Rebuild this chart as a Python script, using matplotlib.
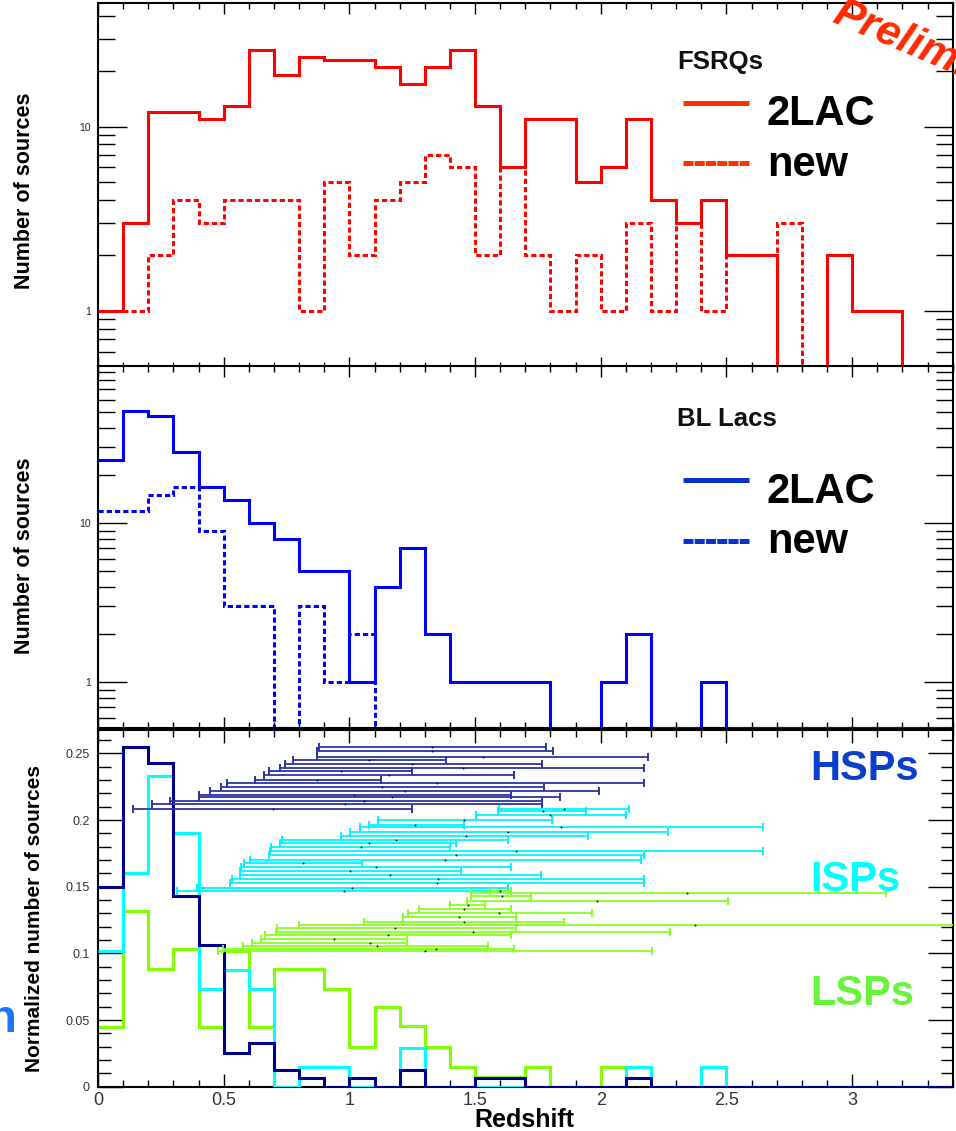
import numpy as np
import matplotlib
matplotlib.use("Agg")
import matplotlib.pyplot as plt
from matplotlib.lines import Line2D
from matplotlib.ticker import FixedLocator, MultipleLocator, NullFormatter, FuncFormatter, LogLocator

plt.rcParams['font.family'] = ['Liberation Sans', 'DejaVu Sans']

# ---------------- data ----------------
bin_edges = np.round(np.arange(0, 3.41, 0.1), 1)

fsrq_2lac = [1, 3, 12, 12, 11, 13, 26, 19, 24, 23, 23, 21, 17, 21, 26, 13, 6, 11,
             11, 5, 6, 11, 4, 3, 4, 2, 2, 0, 0, 2, 1, 1, 0, 0]
fsrq_new = [1, 1, 2, 4, 3, 4, 4, 4, 1, 5, 2, 4, 5, 7, 6, 2, 6, 2,
            1, 2, 1, 3, 1, 3, 1, 2, 2, 3, 0, 0, 0, 0, 0, 0]
bll_2lac = [25, 51, 47, 28, 17, 14, 10, 8, 5, 5, 1, 4, 7, 2, 1, 1, 1, 1,
            0, 0, 1, 2, 0, 0, 1, 0, 0, 0, 0, 0, 0, 0, 0, 0]
bll_new = [12, 12, 15, 17, 9, 3, 3, 0, 3, 1, 2, 0, 0, 0, 0, 0, 0, 0,
           0, 0, 0, 0, 0, 0, 0, 0, 0, 0, 0, 0, 0, 0, 0, 0]

hsp_frac = [0.150, 0.255, 0.2425, 0.143, 0.106, 0.0255, 0.0325, 0.0125, 0.0068, 0,
            0.0068, 0, 0.0125, 0, 0, 0.0068, 0.0068, 0, 0, 0, 0, 0.0068,
            0, 0, 0, 0, 0, 0, 0, 0, 0, 0, 0, 0]
isp_frac = [0.102, 0.160, 0.233, 0.190, 0.073, 0.0875, 0.073, 0, 0.0146, 0.0146,
            0, 0, 0.0292, 0, 0, 0, 0, 0, 0, 0, 0, 0.0146,
            0, 0, 0.0146, 0, 0, 0, 0, 0, 0, 0, 0, 0]
lsp_frac = [0.045, 0.132, 0.088, 0.103, 0.045, 0.102, 0.045, 0.088, 0.088, 0.073,
            0.030, 0.0595, 0.0455, 0.030, 0.015, 0.0074, 0.0074, 0.015, 0, 0, 0.015,
            0, 0, 0, 0, 0, 0, 0, 0, 0, 0, 0, 0, 0]

# redshift ranges (lower limit, upper limit, estimate) of sources without firm z
hsp_y = [0.2546, 0.2516, 0.2473, 0.2450, 0.2420, 0.2387, 0.2364, 0.2338, 0.2303,
         0.2274, 0.2244, 0.2218, 0.2190, 0.2169, 0.2145, 0.2120, 0.2085]
hsp_lo = [0.878, 0.871, 0.871, 0.774, 0.745, 0.725, 0.679, 0.659, 0.625,
          0.515, 0.489, 0.446, 0.400, 0.400, 0.287, 0.214, 0.141]
hsp_hi = [1.784, 1.810, 2.186, 1.383, 1.765, 2.173, 1.250, 1.655, 1.126,
          2.173, 1.774, 1.993, 1.641, 1.837, 1.765, 1.765, 1.250]
hsp_c = [1.33, 1.33, 1.53, 1.08, 1.25, 1.45, 0.967, 1.157, 0.871,
         1.35, 1.13, 1.22, 1.02, 1.17, 1.057, 0.984, 0.696]

isp_y = [0.2083, 0.2066, 0.2036, 0.2003, 0.1965, 0.1948, 0.1910, 0.1878, 0.1853,
         0.1828, 0.1796, 0.1770, 0.1740, 0.1703, 0.1678, 0.1646, 0.1616, 0.1590,
         0.1558, 0.1528, 0.1490, 0.1470]
isp_lo = [1.595, 1.591, 1.505, 1.113, 1.077, 1.041, 1.004, 0.968, 0.732,
          0.725, 0.689, 0.685, 0.679, 0.606, 0.582, 0.570, 0.566, 0.563,
          0.533, 0.526, 0.393, 0.313]
isp_hi = [2.113, 1.943, 2.100, 1.805, 1.456, 2.644, 2.266, 1.951, 1.631,
          1.425, 1.402, 2.644, 2.173, 2.162, 1.050, 1.644, 1.445, 1.764,
          2.173, 2.173, 1.631, 1.644]
isp_c = [1.854, 1.77, 1.80, 1.456, 1.263, 1.843, 1.631, 1.462, 1.185,
         1.077, 1.047, 1.661, 1.425, 1.382, 0.815, 1.106, 1.004, 1.16,
         1.353, 1.347, 1.01, 0.98]

lsp_y = [0.1470, 0.1450, 0.1430, 0.1395, 0.1363, 0.1330, 0.1300, 0.1275, 0.1238,
         0.1213, 0.1188, 0.1163, 0.1138, 0.1106, 0.1080, 0.1055, 0.1033, 0.1018]
lsp_lo = [1.559, 1.485, 1.485, 1.469, 1.402, 1.276, 1.232, 1.214, 1.057,
          0.798, 0.714, 0.709, 0.665, 0.649, 0.612, 0.576, 0.497, 0.479]
lsp_hi = [1.641, 3.133, 1.721, 2.505, 1.539, 1.644, 1.964, 1.661, 1.854,
          3.600, 1.661, 2.276, 1.644, 1.230, 1.230, 1.553, 1.655, 2.203]
lsp_c = [1.60, 2.343, 1.606, 1.987, 1.473, 1.456, 1.595, 1.436, 1.456,
         2.375, 1.183, 1.49, 1.154, 0.938, 1.084, 1.11, 1.343, 1.30]

# ---------------- figure ----------------
W, H = 956, 1131
fig = plt.figure(figsize=(W / 100, H / 100), dpi=100)


def fx(px):
    return px / W


def fy(py):
    return 1 - py / H


X0, X1 = 98, 952.7
ax_top = fig.add_axes([fx(X0), fy(367.7), fx(X1 - X0), (367.7 - 3.3) / H])
ax_mid = fig.add_axes([fx(X0), fy(728.3), fx(X1 - X0), (728.3 - 366) / H])
ax_bot = fig.add_axes([fx(X0), fy(1086.7), fx(X1 - X0), (1086.7 - 730) / H])

HIST_LW = 2.2
DASH = (0, (1.7, 1.0))


def log_style(ax, ylim):
    ax.set_yscale('log')
    ax.set_xlim(0, 3.4)
    ax.set_ylim(*ylim)
    ax.yaxis.set_major_locator(FixedLocator([1, 10, 100]))
    ax.yaxis.set_major_formatter(FuncFormatter(lambda v, p: f"{v:g}"))
    ax.yaxis.set_minor_locator(LogLocator(base=10, subs=np.arange(2, 10)))
    ax.yaxis.set_minor_formatter(NullFormatter())
    ax.xaxis.set_major_locator(MultipleLocator(0.5))
    ax.xaxis.set_minor_locator(MultipleLocator(0.1))
    ax.tick_params(axis='x', which='both', labelbottom=False, top=True, bottom=True,
                   direction='in')
    ax.tick_params(axis='x', which='major', length=8, width=1.0)
    ax.tick_params(axis='x', which='minor', length=4, width=1.0)
    ax.tick_params(axis='y', which='both', direction='in', left=True, right=True)
    ax.tick_params(axis='y', which='major', length=21, width=1.0, labelsize=7.5,
                   pad=5, labelcolor='#222222')
    ax.tick_params(axis='y', which='minor', length=12, width=1.0)
    for s in ax.spines.values():
        s.set_linewidth(1.5)


def floor(vals, ymin):
    v = np.asarray(vals, dtype=float)
    return np.where(v > 0, v, ymin)


# ---- top: FSRQs ----
ylt = (0.49, 46.8)
log_style(ax_top, ylt)
ax_top.stairs(floor(fsrq_2lac, ylt[0]), bin_edges, baseline=None, color='#ff0000',
              lw=HIST_LW, zorder=3)
ax_top.stairs(floor(fsrq_new, ylt[0]), bin_edges, baseline=None, color='#ff0000',
              lw=HIST_LW, linestyle=DASH, zorder=2)

# ---- middle: BL Lacs ----
ylm = (0.514, 97.6)
log_style(ax_mid, ylm)
ax_mid.stairs(floor(bll_2lac, ylm[0]), bin_edges, baseline=None, color='#0000ff',
              lw=HIST_LW, zorder=3)
ax_mid.stairs(floor(bll_new, ylm[0]), bin_edges, baseline=None, color='#0000ff',
              lw=HIST_LW, linestyle=DASH, zorder=2)

# ---- bottom: normalized ----
ax = ax_bot
ax.set_xlim(0, 3.4)
ax.set_ylim(0, 0.2675)
ax.xaxis.set_major_locator(MultipleLocator(0.5))
ax.xaxis.set_minor_locator(MultipleLocator(0.1))
ax.yaxis.set_major_locator(MultipleLocator(0.05))
ax.yaxis.set_minor_locator(MultipleLocator(0.01))
ax.xaxis.set_major_formatter(FuncFormatter(lambda v, p: f"{v:g}"))
ax.yaxis.set_major_formatter(FuncFormatter(lambda v, p: f"{v:g}"))
ax.tick_params(axis='both', which='both', direction='in', top=True, right=True)
ax.tick_params(axis='x', which='major', length=9.5, width=1.0, labelsize=13,
               pad=4.0, labelcolor='#333333')
ax.tick_params(axis='x', which='minor', length=5, width=1.0)
ax.tick_params(axis='y', which='major', length=18, width=1.0, labelsize=9,
               pad=6, labelcolor='#333333')
ax.tick_params(axis='y', which='minor', length=9, width=1.0)
for s in ax.spines.values():
    s.set_linewidth(1.5)

ax.stairs(lsp_frac, bin_edges, baseline=None, color='#80ff00', lw=HIST_LW, zorder=2)
ax.stairs(isp_frac, bin_edges, baseline=None, color='#00ffff', lw=HIST_LW, zorder=3)
ax.stairs(hsp_frac, bin_edges, baseline=None, color='#00008f', lw=HIST_LW, zorder=4)


def ranges(ax, y, lo, hi, c, color):
    y = np.asarray(y); lo = np.asarray(lo); hi = np.asarray(hi); c = np.asarray(c)
    ax.errorbar(c, y, xerr=[c - lo, hi - c], fmt='none', ecolor=color,
                elinewidth=1.3, capsize=3.2, capthick=1.4, zorder=5)
    ax.plot(c, y, 'o', color='#111111', ms=1.4, mew=0, zorder=6)


ranges(ax, hsp_y, hsp_lo, hsp_hi, hsp_c, '#2d35a5')
ranges(ax, isp_y, isp_lo, isp_hi, isp_c, '#00f4ff')
ranges(ax, lsp_y, lsp_lo, lsp_hi, lsp_c, '#88ff22')

# ---------------- texts ----------------
fig.text(fx(25), fy(190.7), 'Number of sources', rotation=90, ha='center', va='center',
         fontsize=15.5, fontweight='bold')
fig.text(fx(25), fy(555.5), 'Number of sources', rotation=90, ha='center', va='center',
         fontsize=15.5, fontweight='bold')
fig.text(fx(35), fy(918), 'Normalized number of sources', rotation=90, ha='center',
         va='center', fontsize=15, fontweight='bold')
fig.text(fx(524), fy(1127), 'Redshift', ha='center', va='baseline', fontsize=18,
         fontweight='bold')

# legends
fig.text(fx(677), fy(69), 'FSRQs', fontsize=18.5, fontweight='bold', color='#111111',
         ha='left', va='baseline')
fig.text(fx(767), fy(125), '2LAC', fontsize=30, fontweight='bold', ha='left', va='baseline')
fig.text(fx(767), fy(176), 'new', fontsize=30, fontweight='bold', ha='left', va='baseline')
fig.add_artist(Line2D([fx(683), fx(749)], [fy(102.5)] * 2, color='#ff3300', lw=3.6,
                      solid_capstyle='butt'))
fig.add_artist(Line2D([fx(683), fx(749)], [fy(163)] * 2, color='#ff3300', lw=3.6,
                      linestyle=(0, (2.0, 0.25)), dash_capstyle='butt'))

fig.text(fx(677), fy(426), 'BL Lacs', fontsize=18.5, fontweight='bold', color='#111111',
         ha='left', va='baseline')
fig.text(fx(767), fy(503), '2LAC', fontsize=30, fontweight='bold', ha='left', va='baseline')
fig.text(fx(767), fy(553), 'new', fontsize=30, fontweight='bold', ha='left', va='baseline')
fig.add_artist(Line2D([fx(683), fx(749)], [fy(480)] * 2, color='#0a30d0', lw=3.6,
                      solid_capstyle='butt'))
fig.add_artist(Line2D([fx(683), fx(749)], [fy(541)] * 2, color='#0a30d0', lw=3.6,
                      linestyle=(0, (2.0, 0.25)), dash_capstyle='butt'))

fig.text(fx(810), fy(780), 'HSPs', fontsize=30, fontweight='bold', color='#0a3fcc',
         ha='left', va='baseline')
fig.text(fx(810), fy(891), 'ISPs', fontsize=30, fontweight='bold', color='#00ffff',
         ha='left', va='baseline')
fig.text(fx(810), fy(1005), 'LSPs', fontsize=30, fontweight='bold', color='#66f53a',
         ha='left', va='baseline')

# overlay texts
fig.text(fx(831), fy(22), 'Preliminary', fontsize=31, fontweight='bold', style='italic',
         color='#ff2a00', rotation=-23, rotation_mode='anchor', ha='left', va='baseline')
fig.text(fx(17), fy(1032), 'n', fontsize=34, fontweight='bold', color='#1a75ff',
         ha='right', va='baseline')

fig.savefig('out.png', dpi=100)
